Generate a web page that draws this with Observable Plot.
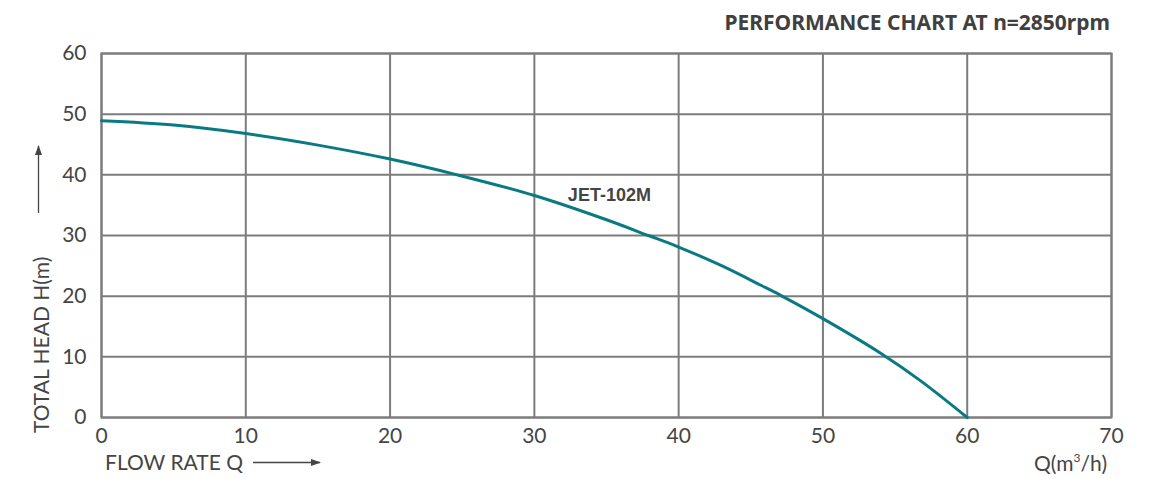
<!DOCTYPE html>
<html>
<head>
<meta charset="utf-8">
<script src="https://cdn.jsdelivr.net/npm/d3@7"></script>
<script src="https://cdn.jsdelivr.net/npm/@observablehq/plot@0.6"></script>
<style>
  html, body { margin: 0; padding: 0; background: #fff; }
  #wrap { position: relative; width: 1149px; height: 479px; overflow: hidden; }
  #title { position: absolute; right: 39px; top: 8px; font-family: "Noto Sans", sans-serif; font-weight: 700; font-size: 21px; color: #404040; white-space: nowrap; }
</style>
</head>
<body>
<div id="wrap">
  <div id="title">PERFORMANCE CHART AT n=2850rpm</div>
  <div id="chart"></div>
</div>
<script>
// Flow rate Q (m³/h) and total head H (m)
const flowQ = [0, 5, 10, 15, 20, 24.65, 30, 35, 37.9, 40, 42.9, 45.7, 47.1, 50, 54.0, 56.8, 60];
const headH = [48.9, 48.2, 46.8, 44.9, 42.6, 40, 36.6, 32.6, 30, 28.1, 25.1, 21.8, 20.1, 16.3, 10.6, 6.0, 0];
const xTicks = [0, 10, 20, 30, 40, 50, 60, 70];
const yTicks = [0, 10, 20, 30, 40, 50, 60];
const seriesName = ["JET-102M"];
const labelQ = [35.2];
const labelH = [36.7];

const data = flowQ.map((q, i) => ({q, h: headH[i]}));
const labels = seriesName.map((name, i) => ({name, q: labelQ[i], h: labelH[i]}));

const gridColor = "#7c7c7c";
const textColor = "#454545";
const font = "Lato, 'Noto Sans', sans-serif";

const chart = Plot.plot({
  width: 1149,
  height: 479,
  marginLeft: 101,
  marginRight: 38,
  marginTop: 53,
  marginBottom: 62,
  style: {fontFamily: font, fontSize: "21px", color: textColor, background: "white"},
  x: {domain: [0, 70], ticks: xTicks, tickSize: 0, tickPadding: 12, label: null},
  y: {domain: [0, 60], ticks: yTicks, tickSize: 0, tickPadding: 15, label: null},
  marks: [
    Plot.gridX(xTicks, {stroke: gridColor, strokeOpacity: 1, strokeWidth: 2}),
    Plot.gridY(yTicks, {stroke: gridColor, strokeOpacity: 1, strokeWidth: 2}),
    Plot.frame({stroke: gridColor, strokeWidth: 2}),
    Plot.axisX(xTicks, {tickSize: 0, tickPadding: 11, fontSize: 21, fill: textColor}),
    Plot.axisY(yTicks, {tickSize: 0, tickPadding: 15, fontSize: 21, fill: textColor}),
    Plot.line(data, {x: "q", y: "h", curve: "catmull-rom", stroke: "#0a7a82", strokeWidth: 3}),
    Plot.text(labels, {x: "q", y: "h", text: "name", fontFamily: "'Liberation Sans', Arial, sans-serif", fontWeight: "bold", fontSize: 18, fill: "#444"})
  ]
});
document.getElementById("chart").appendChild(chart);

// Axis titles and arrows (decorations)
const svg = d3.select(chart);
const defs = svg.append("defs");
defs.append("marker").attr("id", "ah").attr("viewBox", "0 0 10 10").attr("refX", 9).attr("refY", 5)
  .attr("markerWidth", 10).attr("markerHeight", 10).attr("markerUnits", "userSpaceOnUse").attr("orient", "auto")
  .append("path").attr("d", "M0,1.5 L10,5 L0,8.5 Z").attr("fill", "#444");

const g = svg.append("g").attr("font-family", font).attr("fill", textColor).attr("font-size", 21);
g.append("text").attr("transform", "translate(49,433) rotate(-90)").attr("text-anchor", "start").text("TOTAL HEAD H(m)");
g.append("line").attr("x1", 38.5).attr("x2", 38.5).attr("y1", 213).attr("y2", 146)
  .attr("stroke", "#444").attr("stroke-width", 1.3).attr("marker-end", "url(#ah)");
g.append("text").attr("x", 105).attr("y", 470).attr("text-anchor", "start").text("FLOW RATE Q");
g.append("line").attr("x1", 253).attr("x2", 320).attr("y1", 462.5).attr("y2", 462.5)
  .attr("stroke", "#444").attr("stroke-width", 1.3).attr("marker-end", "url(#ah)");
const ql = g.append("text").attr("x", 1107).attr("y", 471).attr("text-anchor", "end");
ql.append("tspan").text("Q(m");
ql.append("tspan").attr("font-size", 12).attr("dy", -9).text("3");
ql.append("tspan").attr("dy", 9).text("/h)");
</script>
</body>
</html>
